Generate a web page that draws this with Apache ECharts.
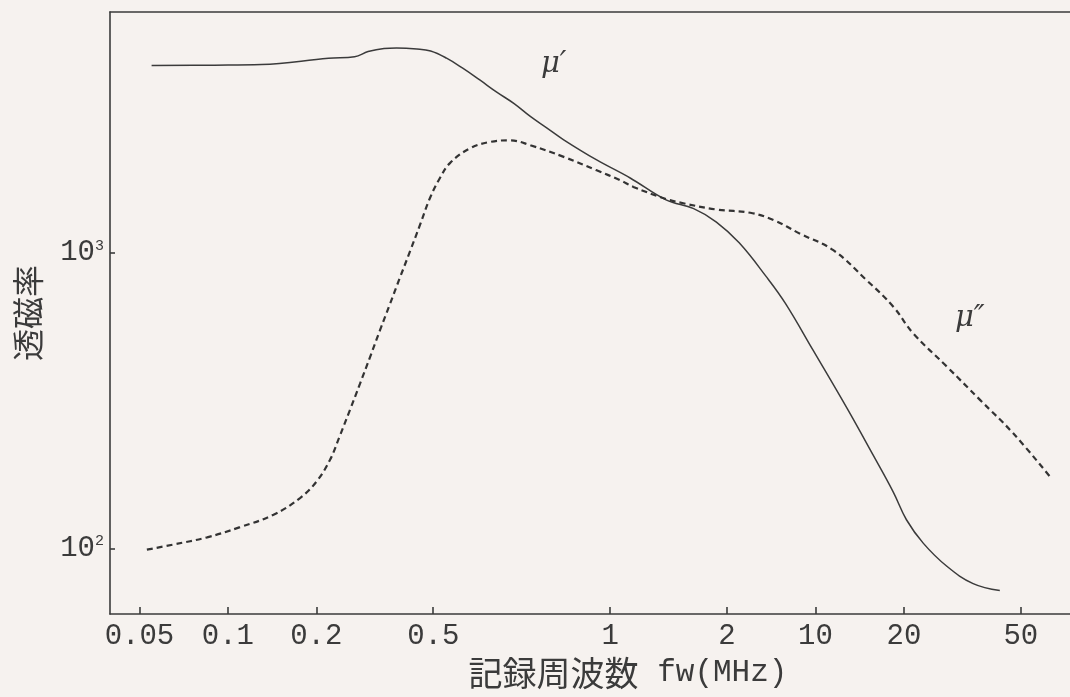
<!DOCTYPE html>
<html>
<head>
<meta charset="utf-8">
<style>
html,body{margin:0;padding:0;background:#f6f2ef;}
#main{width:1070px;height:697px;}
</style>
<script src="https://cdn.jsdelivr.net/npm/echarts@6/dist/echarts.min.js"></script>
</head>
<body>
<div id="main"></div>
<script>
// μ' 実線
var freqReal = [0.055, 0.09, 0.13, 0.22, 0.27, 0.30, 0.34, 0.375, 0.44, 0.49, 0.555, 0.63, 0.72, 0.82, 0.94, 1.07, 1.22, 1.39, 1.8, 2.34, 3.1, 3.85, 4.6, 5.5, 6.8, 7.9, 9.8, 12.8, 15.7, 18.4, 20.4, 23.3, 28, 34.4, 42.4];
var muReal = [4300, 4310, 4330, 4550, 4600, 4790, 4910, 4930, 4890, 4810, 4550, 4210, 3840, 3500, 3200, 2890, 2640, 2410, 2060, 1790, 1510, 1410, 1270, 1080, 830, 674, 469, 298, 207, 155, 125, 104, 87, 76, 72];
// μ'' 破線
var freqImag = [0.053, 0.065, 0.085, 0.11, 0.143, 0.176, 0.2, 0.2225, 0.24, 0.26, 0.2815, 0.3045, 0.329, 0.356, 0.385, 0.417, 0.451, 0.487, 0.527, 0.57, 0.667, 0.78, 0.91, 1.07, 1.39, 1.8, 2.16, 2.4, 3.1, 3.55, 4.6, 6.0, 7.2, 8.86, 11.5, 14.9, 18.4, 21.5, 28, 36.3, 47.1, 62.8];
var muImag = [99, 103, 109, 118, 130, 148, 168, 199, 239, 293, 360, 443, 545, 670, 823, 1012, 1244, 1529, 1790, 2010, 2255, 2370, 2400, 2310, 2110, 1900, 1760, 1670, 1520, 1470, 1400, 1365, 1290, 1160, 1020, 809, 657, 534, 412, 318, 245, 175];
// 横軸の目盛 (対数目盛上の位置 MHz) と印字されている数字
var tickFreq = [0.05, 0.1, 0.2, 0.5, 2, 5, 10, 20, 50];
var tickText = ['0.05', '0.1', '0.2', '0.5', '1', '2', '10', '20', '50'];
var yTickVal = [100, 1000];
var xRange = [0.0397, 73.5];
var yRange = [60, 6520];

var ink = '#3b3b3b';
var fontMono = "'Liberation Mono', monospace";
var fontJp = "'Noto Sans CJK JP', sans-serif";

function lg(v){ return Math.log10(v); }
function toPoints(fs, ms){
	return fs.map(function(f, i){ return [lg(f), lg(ms[i])]; });
}
function xLabel(v){
	for (var i = 0; i < tickFreq.length; i++) {
		if (Math.abs(lg(tickFreq[i]) - v) < 1e-6) return tickText[i];
	}
	return '';
}

var chart = echarts.init(document.getElementById('main'));
var option = {
	backgroundColor: '#f6f2ef',
	animation: false,
	grid: { left: 110, right: 0, top: 12, bottom: 83 },
	xAxis: [{
		type: 'value',
		min: lg(xRange[0]),
		max: lg(xRange[1]),
		axisLine: { onZero: false, lineStyle: { color: ink, width: 1.6 } },
		axisTick: { inside: true, length: 7, customValues: tickFreq.map(lg), lineStyle: { color: ink, width: 1.6 } },
		axisLabel: {
			customValues: tickFreq.map(lg),
			formatter: xLabel,
			margin: 8,
			color: ink,
			fontFamily: fontMono,
			fontSize: 29
		},
		splitLine: { show: false },
		name: '{c|記録周波数}{m| fw(MHz)}',
		nameLocation: 'middle',
		nameGap: 42,
		nameTextStyle: {
			padding: [0, 0, 0, 76],
			rich: {
				c: { fontFamily: fontJp, fontSize: 34, color: ink },
				m: { fontFamily: fontMono, fontSize: 31, color: ink }
			}
		}
	}, {
		//上の枠線
		type: 'value',
		position: 'top',
		min: lg(xRange[0]),
		max: lg(xRange[1]),
		axisLine: { onZero: false, lineStyle: { color: ink, width: 1.6 } },
		axisTick: { show: false },
		axisLabel: { show: false },
		splitLine: { show: false }
	}],
	yAxis: {
		type: 'value',
		min: lg(yRange[0]),
		max: lg(yRange[1]),
		axisLine: { onZero: false, lineStyle: { color: ink, width: 1.6 } },
		axisTick: { inside: true, length: 5, customValues: yTickVal.map(lg), lineStyle: { color: ink, width: 1.6 } },
		axisLabel: {
			customValues: yTickVal.map(lg),
			formatter: function(v){ return '{b|10}{s|' + Math.round(v) + '}'; },
			margin: 6,
			rich: {
				b: { fontFamily: fontMono, fontSize: 29, color: ink },
				s: { fontFamily: fontMono, fontSize: 15, color: ink, verticalAlign: 'top' }
			}
		},
		splitLine: { show: false },
		name: '透磁率',
		nameLocation: 'middle',
		nameGap: 66,
		nameTextStyle: { fontFamily: fontJp, fontSize: 32, color: ink }
	},
	series: [{
		name: "μ'",
		type: 'line',
		data: toPoints(freqReal, muReal),
		showSymbol: false,
		smooth: 0.4,
		lineStyle: { color: ink, width: 1.5 }
	}, {
		name: "μ''",
		type: 'line',
		data: toPoints(freqImag, muImag),
		showSymbol: false,
		smooth: 0.4,
		lineStyle: { color: '#333', width: 2.2, type: [6, 4] }
	}],
	graphic: [{
		type: 'text', left: 541, top: 50,
		style: { text: 'μ′', font: "italic 29px 'DejaVu Serif'", fill: ink }
	}, {
		type: 'text', left: 955, top: 304,
		style: { text: 'μ″', font: "italic 29px 'DejaVu Serif'", fill: ink }
	}]
};
chart.setOption(option);
</script>
</body>
</html>
